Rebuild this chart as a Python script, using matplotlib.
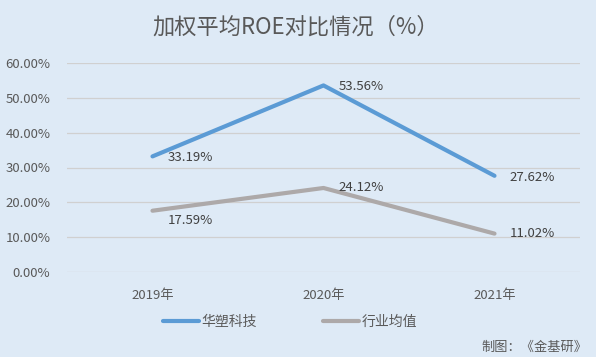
import matplotlib
matplotlib.use("Agg")
import matplotlib.pyplot as plt
from matplotlib.ticker import FuncFormatter

plt.rcParams['font.family'] = ['Noto Sans CJK SC', 'DejaVu Sans']

categories = ["2019年", "2020年", "2021年"]
huasu = [33.19, 53.56, 27.62]
industry = [17.59, 24.12, 11.02]
series_names = ["华塑科技", "行业均值"]
title = "加权平均ROE对比情况（%）"
credit = "制图：《金基研》"

bg = "#DEEAF6"
blue = "#5B9BD5"
grey = "#ADA9A9"
txt = "#595959"

fig = plt.figure(figsize=(5.96, 3.57), dpi=100, facecolor=bg)
ax = fig.add_axes([67/596, 1-272/357, 513/596, 209/357], facecolor=bg)

x = list(range(len(categories)))
ax.plot(x, huasu, color=blue, lw=3, solid_capstyle='round', label=series_names[0], zorder=3)
ax.plot(x, industry, color=grey, lw=3, solid_capstyle='round', label=series_names[1], zorder=3)

for xi, v in zip(x, huasu):
    ax.annotate(f"{v:.2f}%", (xi, v), xytext=(11, -1), textcoords='offset points',
                ha='left', va='center', fontsize=9.5, color="#404040")
for i, (xi, v) in enumerate(zip(x, industry)):
    dy = -7 if i == 0 else 0
    ax.annotate(f"{v:.2f}%", (xi, v), xytext=(11, dy), textcoords='offset points',
                ha='left', va='center', fontsize=9.5, color="#404040")

ax.set_xlim(-0.5, 2.5)
ax.set_ylim(0, 60)
ax.set_yticks(range(0, 61, 10))
ax.yaxis.set_major_formatter(FuncFormatter(lambda v, p: f"{v:.2f}%"))
ax.set_xticks(x)
ax.set_xticklabels(categories)
ax.tick_params(axis='both', length=0, labelsize=9.5, colors=txt)
ax.tick_params(axis='x', pad=12)
ax.tick_params(axis='y', pad=12)
ax.grid(axis='y', color="#D0D0D0", lw=0.9)
ax.set_axisbelow(True)
for s in ax.spines.values():
    s.set_visible(False)

fig.text(296/596, 1-27/357, title, ha='center', va='center', fontsize=16, color=txt)
fig.legend(loc='center', bbox_to_anchor=(290/596, 1-322/357), ncol=2, frameon=False,
           fontsize=10, labelcolor=txt, handlelength=2.6, handletextpad=0.15, columnspacing=4.8)
fig.text(587/596, 1-347/357, credit, ha='right', va='center', fontsize=9.5, color=txt)

fig.savefig("out.png", dpi=100, facecolor=bg)
